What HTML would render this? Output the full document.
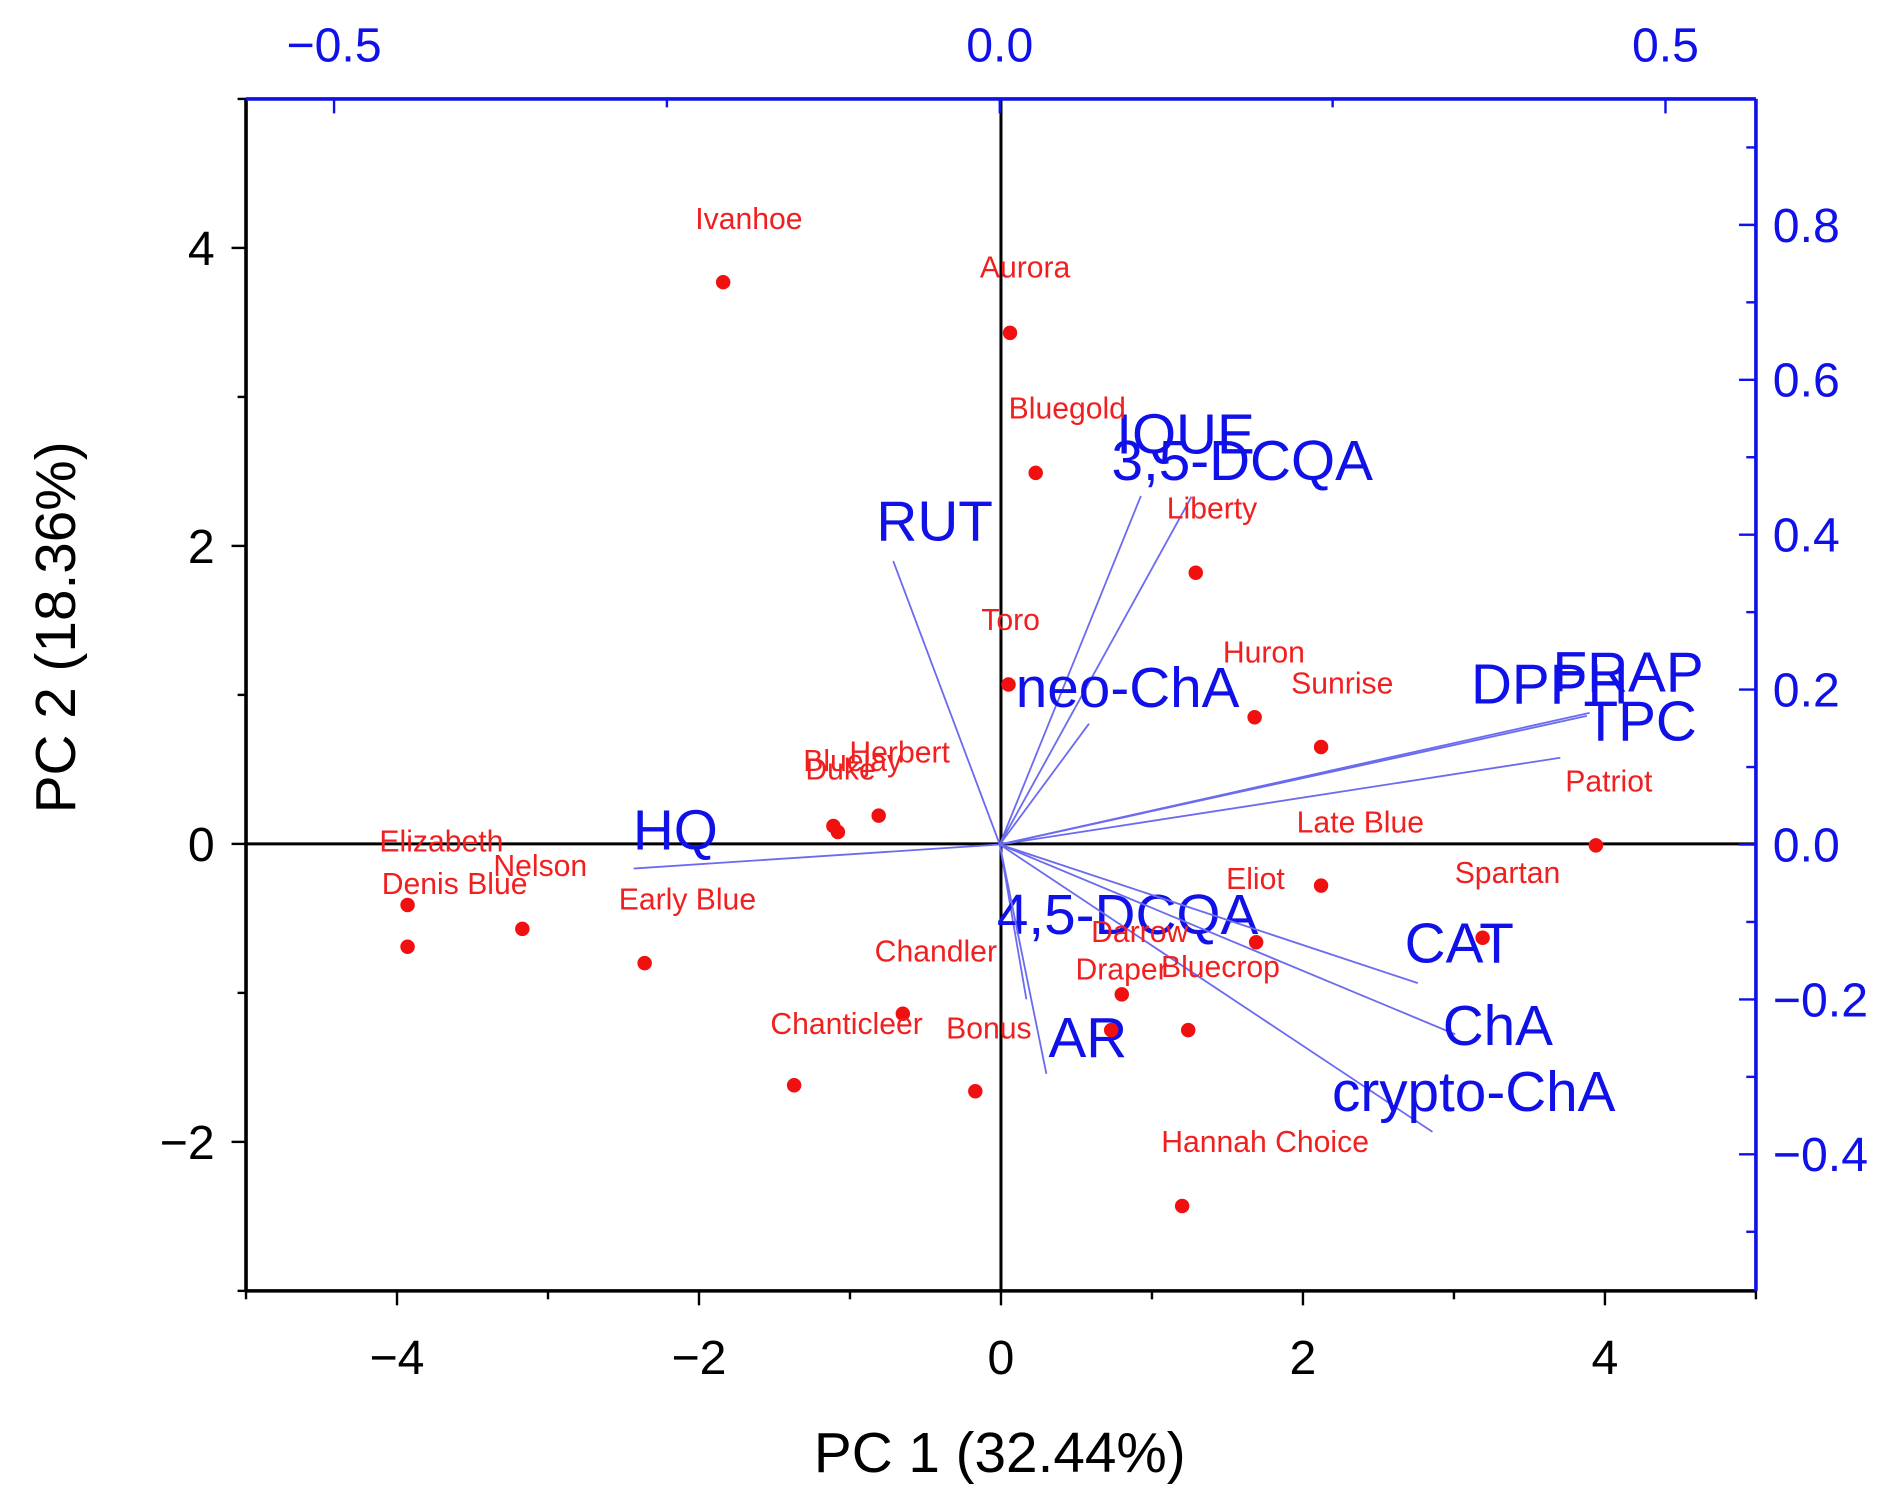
<!DOCTYPE html>
<html><head><meta charset="utf-8"><style>
html,body{margin:0;padding:0;background:#fff;}
svg{display:block;font-family:"Liberation Sans",Arial,sans-serif;}
</style></head><body>
<svg id="chart" width="1891" height="1502" viewBox="0 0 1568 1245" preserveAspectRatio="none" xmlns="http://www.w3.org/2000/svg">
<g id="grid"></g><g id="loads"></g><g id="pts"></g><g id="axes"></g>
</svg>
<script>
const sampleNames=["Ivanhoe","Aurora","Bluegold","Liberty","Toro","Huron","Sunrise","Patriot","Late Blue","Spartan","Eliot","Darrow","Draper","Bluecrop","Chandler","Chanticleer","Bonus","Hannah Choice","Early Blue","Nelson","Denis Blue","Elizabeth","Herbert","Bluejay","Duke",""];
const pc1=[-1.84,0.06,0.23,1.29,0.05,1.68,2.12,3.94,3.94,3.19,2.12,1.69,0.80,1.24,-0.17,-0.65,0.73,1.20,-2.36,-3.17,-3.93,-3.93,-0.81,-1.08,-1.11,-1.37];
const pc2=[3.77,3.43,2.49,1.82,1.07,0.85,0.65,-0.01,-0.01,-0.63,-0.28,-0.66,-1.01,-1.25,-1.66,-1.14,-1.25,-2.43,-0.80,-0.57,-0.69,-0.41,0.19,0.08,0.12,-1.62];
const drawDot=[1,1,1,1,1,1,1,1,0,1,1,1,1,1,1,1,1,1,1,1,1,1,1,1,1,1];
const labelX=[621,850,885,1005,838,1048,1113,1334,1128,1250,1041,945,930,1012,776,702,820,1049,570,448,377,366,746,707,697,0];
const labelY=[181,221,338,421,513,540,566,647,681,723,728,772,803,801,788,848,852,946,745,717,732,697,623,630,637,0];
const varNames=["RUT","IQUE","3,5-DCQA","neo-ChA","DPPH","FRAP","TPC","HQ","4,5-DCQA","CAT","ChA","crypto-ChA","AR"];
const load1=[-0.080,0.106,0.144,0.067,0.441,0.443,0.421,-0.275,0.02,0.314,0.342,0.325,0.035];
const load2=[0.366,0.45,0.449,0.156,0.166,0.17,0.112,-0.031,-0.2,-0.179,-0.245,-0.371,-0.296];
const varLabelX=[775,983,1030,935,1285,1350,1360,560,935,1210,1242,1222,902];
const varLabelY=[432,360,382,570,567,557,598,688,758,782,850,905,860];
const xTicks=[-4,-2,0,2,4];
const yTicks=[4,2,0,-2];
const topTicks=[-0.5,0.0,0.5];
const rightTicks=[0.8,0.6,0.4,0.2,0.0,-0.2,-0.4];
const L=204,R=1456,T=82,B=1070;
const X=v=>L+(v+5)/10*(R-L);
const Y=v=>B-(v+3)/8*(B-T);
const XT=v=>829+v*1104;
const YR=v=>700-v*642;
const NS="http://www.w3.org/2000/svg";
function mk(tag,attrs,parent,txt){const e=document.createElementNS(NS,tag);for(const k in attrs)e.setAttribute(k,attrs[k]);if(txt!==undefined)e.textContent=txt;document.getElementById(parent).appendChild(e);return e;}
let e=mk('line',{x1:L,x2:R,y1:Y(0),y2:Y(0),stroke:'#000','stroke-width':2.5},'grid');


e=mk('line',{x1:X(0),x2:X(0),y1:T,y2:B,stroke:'#000','stroke-width':2.5},'grid');


varNames.forEach((n,i)=>{
 const l=mk('line',{x1:XT(0),y1:YR(0),x2:XT(load1[i]),y2:YR(load2[i]),stroke:'#6b6bf0','stroke-width':1.5},'loads');
 
 
 const t=mk('text',{x:varLabelX[i],y:varLabelY[i]+16,'text-anchor':'middle','font-size':47,fill:'#1010e8'},'loads',n);
 
 
});
sampleNames.forEach((n,i)=>{
 if(drawDot[i]){const c=mk('circle',{cx:X(pc1[i]),cy:Y(pc2[i]),r:6,fill:'#f01010'},'pts');
 
 }
 if(n){const t=mk('text',{x:labelX[i],y:labelY[i]+9,'text-anchor':'middle','font-size':25,fill:'#f02020'},'pts',n);
 
 }
});
[['frame-left',L,T,L,B,'#000'],['frame-bottom',L,B,R,B,'#000'],['frame-top',L,T,R,T,'#1010e8'],['frame-right',R,T,R,B,'#1010e8']].forEach(f=>{
 const l=mk('line',{x1:f[1],y1:f[2],x2:f[3],y2:f[4],stroke:f[5],'stroke-width':3},'axes');
 
 
});
for(let v=-5;v<=5;v++){mk('line',{x1:X(v),x2:X(v),y1:B,y2:B+(v%2===0?12:7),stroke:'#000','stroke-width':2},'axes');}
for(let v=-3;v<=5;v++){mk('line',{x1:L,x2:L-(v%2===0?12:7),y1:Y(v),y2:Y(v),stroke:'#000','stroke-width':2},'axes');}
xTicks.forEach(v=>{const t=mk('text',{x:X(v),y:1139,'text-anchor':'middle','font-size':40,fill:'#000'},'axes',v<0?'\u2212'+(-v):String(v));
 
 });
yTicks.forEach(v=>{const t=mk('text',{x:178,y:Y(v)+14,'text-anchor':'end','font-size':40,fill:'#000'},'axes',v<0?'\u2212'+(-v):String(v));
 
 });
for(let v=-0.5;v<=0.51;v+=0.25){mk('line',{x1:XT(v),x2:XT(v),y1:T,y2:T+(Math.abs(v*4)%2<0.01?12:7),stroke:'#1010e8','stroke-width':2},'axes');}
topTicks.forEach(v=>{const t=mk('text',{x:XT(v),y:51,'text-anchor':'middle','font-size':40,fill:'#1010e8'},'axes',v<0?'\u2212'+(-v).toFixed(1):v.toFixed(1));
 
 });
for(let k=-5;k<=9;k++){const v=k/10;mk('line',{x1:R,x2:R-(k%2===0?14:8),y1:YR(v),y2:YR(v),stroke:'#1010e8','stroke-width':2},'axes');}
rightTicks.forEach(v=>{const t=mk('text',{x:1470,y:YR(v)+14,'text-anchor':'start','font-size':40,fill:'#1010e8'},'axes',v<0?'\u2212'+(-v).toFixed(1):v.toFixed(1));
 
 });
e=mk('text',{x:829,y:1220,'text-anchor':'middle','font-size':47,fill:'#000'},'axes','PC 1 (32.44%)');


e=mk('text',{x:62,y:520,'text-anchor':'middle','font-size':47,fill:'#000',transform:'rotate(-90 62 520)'},'axes','PC 2 (18.36%)');


</script>
</body></html>
